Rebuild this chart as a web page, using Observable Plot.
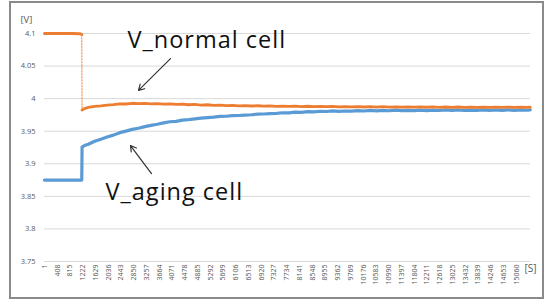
<!DOCTYPE html>
<html><head><meta charset="utf-8">
<script src="https://cdn.jsdelivr.net/npm/d3@7"></script>
<script src="https://cdn.jsdelivr.net/npm/@observablehq/plot@0.6"></script>
<style>
body{margin:0;background:#fff;}
#wrap{position:relative;width:545px;height:301px;overflow:hidden;}
#frame{position:absolute;left:9px;top:1px;width:531px;height:294px;border:2px solid #8a8a8a;pointer-events:none;}
</style></head><body><div id="wrap"><div id="frame"></div></div>
<script>
// ---- data ----
const xTickLabels = [1,408,815,1222,1629,2036,2443,2850,3257,3664,4071,4478,4885,5292,5699,6106,6513,6920,7327,7734,8141,8548,8955,9362,9769,10176,10583,10990,11397,11804,12211,12618,13025,13432,13839,14246,14653,15060];
const yTickValues = [3.75,3.8,3.85,3.9,3.95,4,4.05,4.1];

const preTime   = [1,300,600,900,1100,1160,1190];
const preNormal = [4.1,4.1,4.1,4.1,4.0998,4.0992,4.0985];
const preAging  = [3.875,3.875,3.875,3.875,3.875,3.875,3.875];

const postTime = [1200,1300,1400,1600,1800,2000,2200,2400,2600,2800,3000,3200,3400,3600,3800,4000,4200,4400,4600,4800,5000,5200,5400,5600,5800,6000,6200,6400,6600,6800,7000,7200,7400,7600,7800,8000,8200,8400,8600,8800,9000,9200,9400,9600,9800,10000,10200,10400,10600,10800,11000,11200,11400,11600,11800,12000,12200,12400,12600,12800,13000,13200,13400,13600,13800,14000,14200,14400,14600,14800,15000,15200,15400,15500];
const postAging = [3.9255,3.9285,3.9300,3.9345,3.9378,3.9412,3.9440,3.9478,3.9502,3.9528,3.9545,3.9571,3.9589,3.9607,3.9628,3.9645,3.9652,3.9671,3.9679,3.9690,3.9702,3.9710,3.9716,3.9727,3.9730,3.9738,3.9741,3.9748,3.9753,3.9761,3.9764,3.9770,3.9775,3.9783,3.9782,3.9792,3.9790,3.9801,3.9797,3.9806,3.9803,3.9811,3.9804,3.9810,3.9808,3.9816,3.9810,3.9819,3.9813,3.9820,3.9814,3.9823,3.9815,3.9821,3.9817,3.9825,3.9817,3.9824,3.9818,3.9826,3.9819,3.9826,3.9819,3.9825,3.9820,3.9827,3.9819,3.9826,3.9821,3.9827,3.9821,3.9827,3.9822,3.9826];
const postNormal = [3.9825,3.9852,3.9866,3.9880,3.9889,3.9902,3.9908,3.9921,3.9918,3.9929,3.9924,3.9928,3.9921,3.9925,3.9916,3.9920,3.9911,3.9916,3.9906,3.9911,3.9902,3.9906,3.9898,3.9901,3.9893,3.9897,3.9890,3.9894,3.9887,3.9891,3.9884,3.9888,3.9882,3.9886,3.9880,3.9884,3.9878,3.9883,3.9877,3.9881,3.9876,3.9880,3.9874,3.9879,3.9873,3.9878,3.9872,3.9877,3.9871,3.9876,3.9870,3.9875,3.9869,3.9874,3.9869,3.9873,3.9868,3.9873,3.9867,3.9872,3.9867,3.9872,3.9866,3.9871,3.9866,3.9871,3.9865,3.9870,3.9865,3.9870,3.9865,3.9869,3.9865,3.9868];

const annoLabels = ["V_normal cell","V_aging cell"];
const annoX = [2650,1948];
const annoY = [4.0897,3.8558];
const arrowX1 = [4022,3415], arrowY1 = [4.0615,3.885];
const arrowX2 = [3000,2745], arrowY2 = [4.0127,3.928];

// ---- tables ----
const agingRows = preTime.map((t,i)=>({t, v:preAging[i]})).concat(postTime.map((t,i)=>({t, v:postAging[i]})));
const normalPre = preTime.map((t,i)=>({t, v:preNormal[i]}));
const normalPost = postTime.map((t,i)=>({t, v:postNormal[i]}));
const normalDrop = [normalPre[normalPre.length-1], normalPost[0]];
const annos = annoLabels.map((s,i)=>({s, x:annoX[i], y:annoY[i]}));
const arrows = arrowX1.map((x1,i)=>({x1, y1:arrowY1[i], x2:arrowX2[i], y2:arrowY2[i]}));

const blue = "#5B9BD5", orange = "#ED7D31";

const chart = Plot.plot({
  width:545, height:301,
  marginLeft:44, marginRight:15, marginTop:33, marginBottom:40,
  style:{fontFamily:"'Open Sans', sans-serif", background:"transparent", overflow:"visible"},
  x:{type:"linear", domain:[1,15510]},
  y:{domain:[3.75,4.1]},
  marks:[
    Plot.gridY(yTickValues, {stroke:"#d9d9d9", strokeOpacity:1}),
    Plot.axisY(yTickValues, {tickSize:0, tickPadding:9, fontSize:7.5, fill:"#595959", tickFormat:d=>String(d), label:null}),
    Plot.axisX(xTickLabels, {tickSize:0, tickRotate:-90, tickPadding:3, fontSize:7, fill:"#595959", tickFormat:d=>String(d), label:null}),
    Plot.text(["[V]"], {frameAnchor:"top-left", dx:-24, dy:-17, textAnchor:"start", fontSize:9.5, fill:"#595959"}),
    Plot.text(["[S]"], {frameAnchor:"bottom-right", dx:-6, dy:10, textAnchor:"start", fontSize:10, fill:"#595959"}),
    Plot.line(agingRows, {x:"t", y:"v", stroke:blue, strokeWidth:3.2}),
    Plot.line(normalDrop, {x:"t", y:"v", stroke:orange, strokeWidth:1.2, strokeDasharray:"1.5,1.5", strokeOpacity:0.8}),
    Plot.line(normalPre, {x:"t", y:"v", stroke:orange, strokeWidth:3}),
    Plot.line(normalPost, {x:"t", y:"v", stroke:orange, strokeWidth:2.8}),
    Plot.arrow(arrows, {x1:"x1", y1:"y1", x2:"x2", y2:"y2", stroke:"#333", strokeWidth:1.2, headLength:8}),
    Plot.text(annos, {x:"x", y:"y", text:"s", textAnchor:"start", fontSize:23.5, fill:"#111", style:"letter-spacing:1px"})
  ]
});
chart.querySelectorAll("text").forEach(t=>{ if(t.textContent.startsWith("V_")) t.setAttribute("letter-spacing","1"); });
document.getElementById("wrap").prepend(chart);
</script></body></html>
